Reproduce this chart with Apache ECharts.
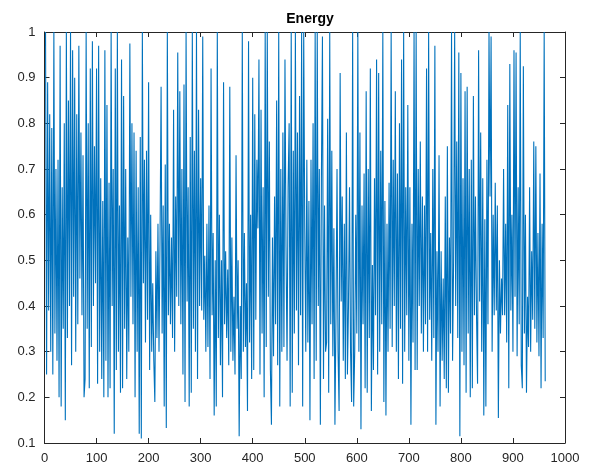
<!DOCTYPE html>
<html>
<head>
<meta charset="utf-8">
<script src="https://cdn.jsdelivr.net/npm/echarts@6/dist/echarts.min.js"></script>
<style>
html,body{margin:0;padding:0;background:#fff;}
#chart{width:597px;height:472px;}
</style>
</head>
<body>
<div id="chart"></div>
<script>
const chartTitle = 'Energy';
const xMin = 0, xMax = 1000, xStep = 100;
const yMin = 0.1, yMax = 1, yStep = 0.1;
const sampleStep = 2;   // spacing of samples along x
const sampleStart = 2;  // x of the first sample
// energy values, one per sample
const energy = [
1.0,0.25,0.89,0.39,0.82,0.3,   0.79,0.25,1.0,0.34,0.7,0.28,
0.72,0.2,0.97,0.18,0.66,0.35,  0.8,0.15,1.0,0.33,0.85,0.4,
1.0,0.27,0.96,0.42,0.9,0.3,    0.82,0.36,0.97,0.46,0.78,0.38,
0.73,0.2,0.24,1.0,0.35,0.8,    0.22,0.92,0.31,0.98,0.4,0.75,
0.45,0.92,0.23,0.97,0.3,0.68,  0.24,0.63,0.2,0.96,0.28,0.84,
0.2,0.67,0.22,1.0,0.4,0.7,     0.12,0.92,0.26,1.0,0.3,0.62,
0.21,0.94,0.22,0.86,0.35,0.7,  0.24,0.55,0.3,0.975,0.42,0.8,
0.36,0.78,0.2,0.74,0.3,0.66,   0.12,0.77,0.11,1.0,0.45,0.72,
0.32,0.74,0.37,0.89,0.26,0.6,  0.3,0.45,0.28,0.19,0.52,0.33,
0.58,0.3,0.55,0.88,0.34,0.62,  0.18,0.71,0.133,1.0,0.38,0.58,
0.36,0.55,0.33,0.83,0.3,0.64,  0.42,0.955,0.4,0.87,0.36,0.7,
0.25,0.885,0.19,1.0,0.41,0.66, 0.18,0.77,0.21,1.0,0.35,0.74,
0.3,1.0,0.24,0.83,0.4,0.68,    0.39,0.99,0.37,0.51,0.3,0.58,
0.31,0.62,0.24,0.92,0.38,0.56, 0.16,0.5,0.18,1.0,0.33,0.6,
0.27,0.5,0.2,0.89,0.36,0.52,   0.33,0.48,0.27,0.88,0.3,0.55,
0.28,0.42,0.25,0.73,0.35,0.5,  0.115,0.4,0.24,1.0,0.3,0.56,
0.31,0.45,0.17,0.98,0.32,0.6,  0.24,0.9,0.26,0.82,0.37,0.72,
0.57,0.94,0.25,0.83,0.34,0.66, 0.2,1.0,0.31,1.0,0.42,0.76,
0.26,0.14,0.55,0.29,0.64,0.36, 0.85,0.27,1.0,0.18,0.7,0.3,
0.78,0.31,0.94,0.53,0.28,0.66, 0.8,0.18,1.0,0.21,0.74,0.34,
1.0,0.39,0.78,0.27,0.86,0.38,  1.0,0.18,1.0,0.57,0.3,0.72,
0.32,0.63,0.15,0.72,0.36,0.8,  0.24,1.0,0.28,1.0,0.4,0.7,
0.14,0.68,0.99,0.24,0.62,0.3,  0.32,0.81,0.21,1.0,0.36,0.74,
0.29,0.57,0.14,0.38,0.7,0.3,   0.17,0.91,0.41,0.64,0.28,0.58,
0.24,0.78,0.25,0.4,0.66,0.3,   0.19,1.0,0.18,0.3,0.6,0.34,
1.0,0.3,0.78,0.13,0.62,0.36,   0.69,0.22,0.87,0.21,0.7,0.33,
0.92,0.17,0.49,0.26,0.68,0.38, 0.94,0.25,0.91,0.3,0.74,0.36,
1.0,0.19,0.63,0.16,0.58,0.3,   0.67,0.35,1.0,0.31,0.72,0.4,
0.87,0.3,0.69,0.24,0.8,0.35,   0.94,0.23,1.0,0.3,0.66,0.38,
0.84,0.28,0.66,0.14,0.58,0.32, 1.0,0.26,1.0,0.26,0.7,0.4,
0.76,0.34,0.64,0.3,0.62,0.36,  0.92,0.3,1.0,0.37,0.56,0.28,
0.7,0.33,0.97,0.14,0.52,0.3,   0.73,0.18,0.52,0.28,0.46,0.24,
0.64,0.22,0.75,0.21,0.55,0.34, 1.0,0.28,0.5,1.0,0.4,0.76,
0.33,0.955,0.115,0.91,0.3,0.68, 0.27,0.87,0.21,0.88,0.34,0.7,
0.2,0.72,0.22,0.86,0.38,0.64,  0.38,0.23,0.96,0.41,0.78,0.3,
0.68,0.16,0.59,0.18,0.72,0.36, 1.0,0.64,0.99,0.3,0.6,0.38,
0.67,0.39,0.62,0.155,0.5,0.34, 0.46,0.38,0.7,0.38,0.58,0.32,
0.84,0.22,0.93,0.39,0.6,0.3,   0.96,0.42,0.955,0.29,0.66,0.36,
1.0,0.27,0.22,0.925,0.34,0.6,  0.21,0.42,0.31,0.66,0.3,0.52,
0.37,0.76,0.35,0.75,0.32,0.56, 0.29,0.69,0.22,0.58,0.33,1.0,
0.235
];
const lineColor = '#0072BD';
const axisColor = '#262626';

const points = energy.map((v, i) => [sampleStart + i * sampleStep, v]);
const fmtY = v => String(+v.toFixed(1));
const fmtX = v => String(Math.round(v));
const fontFam = 'Liberation Sans, Arial, Helvetica, sans-serif';

const chart = echarts.init(document.getElementById('chart'), null, {renderer: 'canvas'});
const xBase = {
  type: 'value', min: xMin, max: xMax, interval: xStep,
  axisLine: {show: true, onZero: false, lineStyle: {color: axisColor, width: 1}},
  axisTick: {show: true, inside: true, length: 5, lineStyle: {color: axisColor}},
  splitLine: {show: false}
};
const yBase = {
  type: 'value', min: yMin, max: yMax, interval: yStep,
  axisLine: {show: true, onZero: false, lineStyle: {color: axisColor, width: 1}},
  axisTick: {show: true, inside: true, length: 5, lineStyle: {color: axisColor}},
  splitLine: {show: false}
};
chart.setOption({
  animation: false,
  backgroundColor: '#ffffff',
  title: {
    text: chartTitle, left: 305, top: 7, textAlign: 'center',
    textStyle: {fontFamily: fontFam, fontSize: 14, fontWeight: 'bold', color: '#000'}
  },
  grid: {left: 44.5, right: 32, top: 32, bottom: 29, containLabel: false},
  xAxis: [
    Object.assign({}, xBase, {position: 'bottom',
      axisLabel: {show: true, margin: 9, color: axisColor, fontFamily: fontFam, fontSize: 13, formatter: fmtX}}),
    Object.assign({}, xBase, {position: 'top', axisLabel: {show: false}})
  ],
  yAxis: [
    Object.assign({}, yBase, {position: 'left',
      axisLabel: {show: true, margin: 9, color: axisColor, fontFamily: fontFam, fontSize: 13, formatter: fmtY}}),
    Object.assign({}, yBase, {position: 'right', axisLabel: {show: false}})
  ],
  series: [{
    type: 'line', data: points, xAxisIndex: 0, yAxisIndex: 0,
    showSymbol: false, symbol: 'none', sampling: null, smooth: false,
    lineStyle: {color: lineColor, width: 1.1}
  }]
});
</script>
</body>
</html>
